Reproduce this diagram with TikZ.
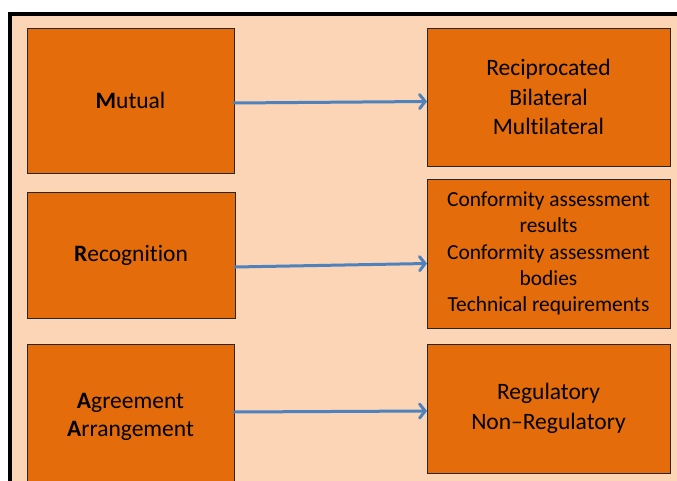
\documentclass[tikz,border=0pt]{standalone}
\usepackage{fontspec}
\setmainfont[Ligatures={NoCommon}]{Carlito}
\usetikzlibrary{arrows.meta}
\definecolor{peach}{HTML}{FBD5B5}
\definecolor{boxorange}{HTML}{E46C0A}
\definecolor{arrowblue}{HTML}{4F81BD}
\begin{document}
\begin{tikzpicture}[x=1pt,y=-1pt,
  obox/.style={draw=black!85, line width=0.8pt, fill=boxorange, inner sep=0pt, outer sep=0pt,
    align=center, text=black, font=\fontsize{23.5}{29.5}\selectfont},
  sbox/.style={obox, font=\fontsize{21.4}{26.2}\selectfont},
  conn/.style={draw=arrowblue, line width=3pt, line cap=round, -{Straight Barb[length=5.5pt,width=14pt,line cap=round]}}]
\useasboundingbox (0,0) rectangle (677,481);
\clip (0,0) rectangle (677,481);
\draw[line width=4pt, fill=peach] (10.3,14) rectangle (720,560);
\node[obox, minimum width=207pt, minimum height=145pt] (m) at (130.5,100.5) {\textbf{M}utual};
\node[obox, minimum width=243pt, minimum height=138pt] (r) at (548.5,97) {Reciprocated\\Bilateral\\Multilateral};
\node[obox, minimum width=208pt, minimum height=126pt] (rc) at (131,255) {\textbf{R}ecognition};
\node[sbox, minimum width=243pt, minimum height=149pt] (c) at (548.5,253.5) {Conformity assessment\\results\\Conformity assessment\\bodies\\Technical requirements};
\node[obox, minimum width=207pt, minimum height=146pt, font=\fontsize{23.5}{28.5}\selectfont] (a) at (130.5,417) {\textbf{A}greement\\\textbf{A}rrangement};
\node[obox, minimum width=243pt, minimum height=129pt] (g) at (548.5,408.5) {Regulatory\\Non–Regulatory};
\draw[conn] ([yshift=-2.5pt]m.east) -- ([yshift=-4.5pt]r.west);
\draw[conn] ([yshift=-12pt]rc.east) -- ([yshift=-10pt]c.west);
\draw[conn] ([yshift=5pt]a.east) -- ([yshift=-2.5pt]g.west);
\end{tikzpicture}
\end{document}
